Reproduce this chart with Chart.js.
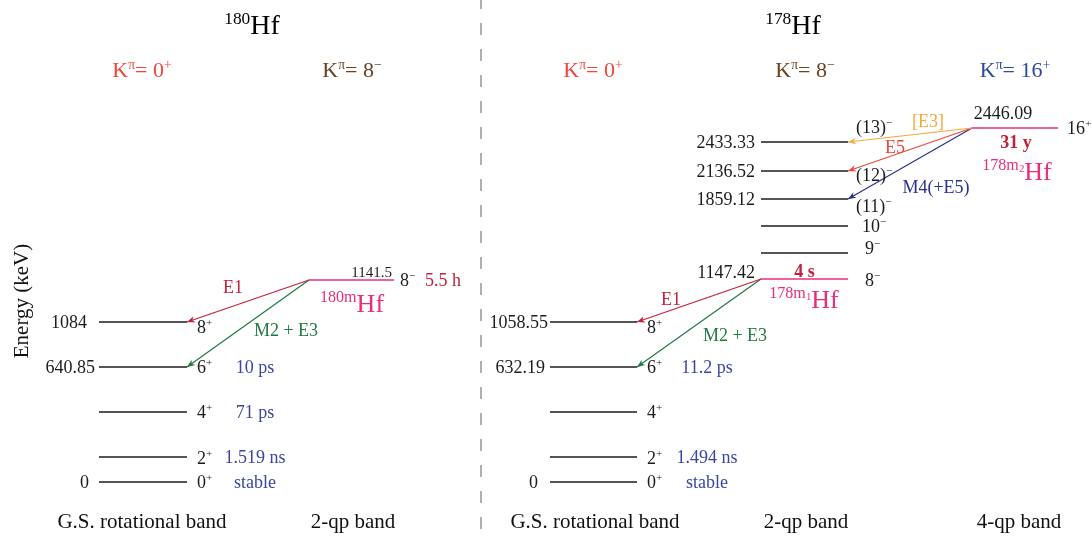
<!DOCTYPE html>
<html><head><meta charset="utf-8">
<script src="https://cdn.jsdelivr.net/npm/chart.js@4.4.1/dist/chart.umd.min.js"></script>
<style>html,body{margin:0;padding:0;background:#fff;overflow:hidden}canvas{display:block}</style>
</head><body>
<canvas id="c" width="1092" height="540" style="width:1092px;height:540px"></canvas>
<script>
// ---------------- DATA ----------------
// schematic level heights (diagram units, level scheme is not to scale)
const groundSpins = ["0+", "2+", "4+", "6+", "8+"];
const groundHeights = [0, 25, 70, 115, 160];

const hf180GroundEnergies = ["0", "", "", "640.85", "1084"];
const hf180GroundHalfLives = ["stable", "1.519 ns", "71 ps", "10 ps", ""];
const hf180IsomerSpins = ["8−"];
const hf180IsomerHeights = [202];
const hf180IsomerEnergies = ["1141.5"];
const hf180IsomerHalfLives = ["5.5 h"];

const hf178GroundEnergies = ["0", "", "", "632.19", "1058.55"];
const hf178GroundHalfLives = ["stable", "1.494 ns", "", "11.2 ps", ""];
const hf178Band2Spins = ["8−", "9−", "10−", "(11)−", "(12)−", "(13)−"];
const hf178Band2Heights = [203, 229, 256, 283, 311, 340];
const hf178Band2Energies = ["1147.42", "", "", "1859.12", "2136.52", "2433.33"];
const hf178Band2HalfLives = ["4 s", "", "", "", "", ""];
const hf178Band4Spins = ["16+"];
const hf178Band4Heights = [354];
const hf178Band4Energies = ["2446.09"];
const hf178Band4HalfLives = ["31 y"];

const bandNames = ["G.S. rotational band", "2-qp band", "G.S. rotational band", "2-qp band", "4-qp band"];
const kLabels = ["0+", "8−", "0+", "8−", "16+"];
const nuclides = ["180", "178"];
const isomerNames = [["180m", ""], ["178m", "1"], ["178m", "2"]];

const transitionFrom = [["a_k8", 0], ["a_k8", 0], ["b_k8", 0], ["b_k8", 0], ["b_k16", 0], ["b_k16", 0], ["b_k16", 0]];
const transitionTo   = [["a_g", 4], ["a_g", 3], ["b_g", 4], ["b_g", 3], ["b_k8", 5], ["b_k8", 4], ["b_k8", 3]];
const transitionLabels = ["E1", "M2 + E3", "E1", "M2 + E3", "[E3]", "E5", "M4(+E5)"];

// ---------------- STYLE / LAYOUT ----------------
const FONT = "'Liberation Serif','Times New Roman',serif";
const C = {
  black: '#1c1c1c', pink: '#ea2e7c', blue: '#3a46a0', dred: '#c3213a',
  k0: '#f2463a', k8: '#6a4222', k16: '#2c4a9c',
  e1: '#c8203c', m2: '#1f7a44', e3: '#f6a93b', e5: '#f2463c', m4: '#28328e', div: '#b0b0b0'
};
const transitionColors = [C.e1, C.m2, C.e1, C.m2, C.e3, C.e5, C.m4];
const transitionLabelPos = [[233, 287], [286, 330], [671, 299], [735, 335], [928, 121], [895, 147], [936, 187]];

const bands = {
  a_g:  {heights: groundHeights, spins: groundSpins, energies: hf180GroundEnergies, halfLives: hf180GroundHalfLives},
  a_k8: {heights: hf180IsomerHeights, spins: hf180IsomerSpins, energies: hf180IsomerEnergies, halfLives: hf180IsomerHalfLives},
  b_g:  {heights: groundHeights, spins: groundSpins, energies: hf178GroundEnergies, halfLives: hf178GroundHalfLives},
  b_k8: {heights: hf178Band2Heights, spins: hf178Band2Spins, energies: hf178Band2Energies, halfLives: hf178Band2HalfLives},
  b_k16:{heights: hf178Band4Heights, spins: hf178Band4Spins, energies: hf178Band4Energies, halfLives: hf178Band4HalfLives}
};
const LAYOUT = {
  a_g:  {x0: 99, x1: 187, colors: [C.black], en: {ref: 'x0', dx: [-10, -4, -4, -4, -12], dy: 0, align: 'right', size: 18},
         sp: {dx: 10, dy: [0, 1, 0, 0, 5]}, hl: {ref: 'x1', dx: 68, dy: 0, align: 'center', color: C.blue, bold: false}},
  a_k8: {x0: 309, x1: 394, colors: [C.pink], en: {ref: 'x1', dx: -2, dy: -8, align: 'right', size: 15},
         sp: {dx: 6, dy: [0]}, hl: {ref: 'x1', dx: 31, dy: 0, align: 'left', color: C.dred, bold: false}},
  b_g:  {x0: 550, x1: 637, colors: [C.black], en: {ref: 'x0', dx: [-12, -4, -4, -5, -2], dy: 0, align: 'right', size: 18},
         sp: {dx: 10, dy: [0, 1, 0, 0, 5]}, hl: {ref: 'x1', dx: 70, dy: 0, align: 'center', color: C.blue, bold: false}},
  b_k8: {x0: 761, x1: 848, colors: [C.pink, C.black], en: {ref: 'x0', dx: -6, dy: [-7, 0, 0, 0, 0, 0], align: 'right', size: 18},
         sp: {dx: [17, 17, 14, 8, 8, 8], dy: [1, -5, 0, 7, 4, -15]}, hl: {ref: 'mid', dx: 0, dy: -8, align: 'center', color: C.dred, bold: true}},
  b_k16:{x0: 972, x1: 1058, colors: [C.pink], en: {ref: 'x0', dx: 31, dy: -15, align: 'center', size: 18},
         sp: {dx: 9, dy: [0]}, hl: {ref: 'mid', dx: 1, dy: 14, align: 'center', color: C.dred, bold: true}}
};
const bandLabelX = [142, 353, 595, 806, 1019];
const kLabelX = [142, 352, 593, 805, 1015];
const kColors = [C.k0, C.k8, C.k0, C.k8, C.k16];
const titleX = [252, 793];
const isomerPos = [[352, 303], [804, 299], [1017, 171]];

// ---------------- HELPERS ----------------
function pick(v, i) { return Array.isArray(v) ? (v[i] !== undefined ? v[i] : v[v.length - 1]) : v; }
function spinParts(s) {
  const m = s.match(/^(.*?)([+−])$/);
  return m ? [{t: m[1]}, {t: m[2], s: 'sup'}] : [{t: s}];
}
function fontStr(size, bold) { return (bold ? 'bold ' : '') + size.toFixed(1) + 'px ' + FONT; }
function segSize(p, size) { return p.s === 'sup' ? size * 0.62 : p.s === 'sub' ? size * 0.42 : size; }
function segRise(p, size) { return p.s === 'sup' ? size * 0.38 : p.s === 'sub' ? size * 0.3 : 0; }
function richWidth(ctx, ps, size, bold) {
  let w = 0;
  for (const p of ps) { ctx.font = fontStr(segSize(p, size), bold); w += ctx.measureText(p.t).width; }
  return w;
}
function drawRich(ctx, ps, x, yc, size, color, align, bold) {
  const base = yc + size * 0.33;
  const w = richWidth(ctx, ps, size, bold);
  let cx = align === 'center' ? x - w / 2 : align === 'right' ? x - w : x;
  ctx.fillStyle = color; ctx.textBaseline = 'alphabetic'; ctx.textAlign = 'left';
  for (const p of ps) {
    const s = segSize(p, size);
    ctx.font = fontStr(s, bold);
    ctx.fillText(p.t, cx, base - segRise(p, size));
    cx += ctx.measureText(p.t).width;
  }
}
function refX(L, ref) { return ref === 'x0' ? L.x0 : ref === 'x1' ? L.x1 : (L.x0 + L.x1) / 2; }

// ---------------- DATASETS ----------------
const datasets = [];
datasets.push({data: [{x: 481, y: 485}, {x: 481, y: -58}], borderColor: C.div, borderWidth: 2, borderDash: [12, 14]});
for (const key in bands) {
  const B = bands[key], L = LAYOUT[key];
  B.heights.forEach((h, i) => {
    datasets.push({data: [{x: L.x0, y: h}, {x: L.x1, y: h}], borderColor: pick(L.colors, i), borderWidth: 1.6});
  });
}
transitionLabels.forEach((lab, i) => {
  const [fk, fi] = transitionFrom[i], [tk, ti] = transitionTo[i];
  datasets.push({data: [{x: LAYOUT[fk].x0, y: bands[fk].heights[fi]}, {x: LAYOUT[tk].x1, y: bands[tk].heights[ti]}],
    borderColor: transitionColors[i], borderWidth: 1.2});
});
datasets.forEach(d => { d.showLine = true; d.pointRadius = 0; d.fill = false; d.tension = 0; });

// ---------------- TEXT / ARROW PLUGIN ----------------
const annot = {
  id: 'annot',
  afterDatasetsDraw(chart) {
    const ctx = chart.ctx, xs = chart.scales.x, ys = chart.scales.y;
    ctx.save();
    // arrow heads
    transitionLabels.forEach((lab, i) => {
      const [fk, fi] = transitionFrom[i], [tk, ti] = transitionTo[i];
      const x0 = xs.getPixelForValue(LAYOUT[fk].x0), y0 = ys.getPixelForValue(bands[fk].heights[fi]);
      const x1 = xs.getPixelForValue(LAYOUT[tk].x1), y1 = ys.getPixelForValue(bands[tk].heights[ti]);
      const a = Math.atan2(y1 - y0, x1 - x0), len = 8, hw = 3.2;
      ctx.fillStyle = transitionColors[i];
      ctx.beginPath();
      ctx.moveTo(x1, y1);
      ctx.lineTo(x1 - len * Math.cos(a) + hw * Math.sin(a), y1 - len * Math.sin(a) - hw * Math.cos(a));
      ctx.lineTo(x1 - len * 0.7 * Math.cos(a), y1 - len * 0.7 * Math.sin(a));
      ctx.lineTo(x1 - len * Math.cos(a) - hw * Math.sin(a), y1 - len * Math.sin(a) + hw * Math.cos(a));
      ctx.closePath(); ctx.fill();
      const [lx, ly] = transitionLabelPos[i];
      drawRich(ctx, [{t: lab}], lx, ly, 18, transitionColors[i], 'center', false);
    });
    // level labels
    for (const key in bands) {
      const B = bands[key], L = LAYOUT[key];
      B.heights.forEach((h, i) => {
        const y = ys.getPixelForValue(h);
        if (B.energies[i]) drawRich(ctx, [{t: B.energies[i]}], refX(L, L.en.ref) + pick(L.en.dx, i), y + pick(L.en.dy, i), L.en.size, C.black, L.en.align, false);
        drawRich(ctx, spinParts(B.spins[i]), L.x1 + pick(L.sp.dx, i), y + pick(L.sp.dy, i), 18, C.black, 'left', false);
        if (B.halfLives[i]) drawRich(ctx, [{t: B.halfLives[i]}], refX(L, L.hl.ref) + L.hl.dx, y + L.hl.dy, 18, L.hl.color, L.hl.align, L.hl.bold);
      });
    }
    // isomer names
    isomerNames.forEach((n, i) => {
      const ps = [{t: n[0], s: 'sup'}];
      if (n[1]) ps.push({t: n[1], s: 'sub'});
      ps.push({t: 'Hf'});
      drawRich(ctx, ps, isomerPos[i][0], isomerPos[i][1], 26, C.pink, 'center', false);
    });
    // titles
    nuclides.forEach((n, i) => drawRich(ctx, [{t: n, s: 'sup'}, {t: 'Hf'}], titleX[i], 25, 28, '#000', 'center', false));
    // K labels
    kLabels.forEach((k, i) => {
      const sp = spinParts(k);
      drawRich(ctx, [{t: 'K'}, {t: 'π', s: 'sup'}, {t: '= ' + sp[0].t}, sp[1]], kLabelX[i], 70, 22, kColors[i], 'center', false);
    });
    // band names
    bandNames.forEach((b, i) => drawRich(ctx, [{t: b}], bandLabelX[i], 521, 21, '#111', 'center', false));
    // y axis title
    ctx.translate(22, 301); ctx.rotate(-Math.PI / 2);
    ctx.font = fontStr(21, false); ctx.fillStyle = '#111'; ctx.textAlign = 'center'; ctx.textBaseline = 'middle';
    ctx.fillText('Energy (keV)', 0, 0);
    ctx.restore();
  }
};

new Chart(document.getElementById('c'), {
  type: 'scatter',
  data: {datasets},
  options: {
    responsive: false, animation: false, devicePixelRatio: 1,
    layout: {padding: 0},
    plugins: {legend: {display: false}, tooltip: {enabled: false}},
    scales: {
      x: {type: 'linear', min: 0, max: 1092, display: false},
      y: {type: 'linear', min: -58, max: 482, display: false}
    }
  },
  plugins: [annot]
});
</script></body></html>
